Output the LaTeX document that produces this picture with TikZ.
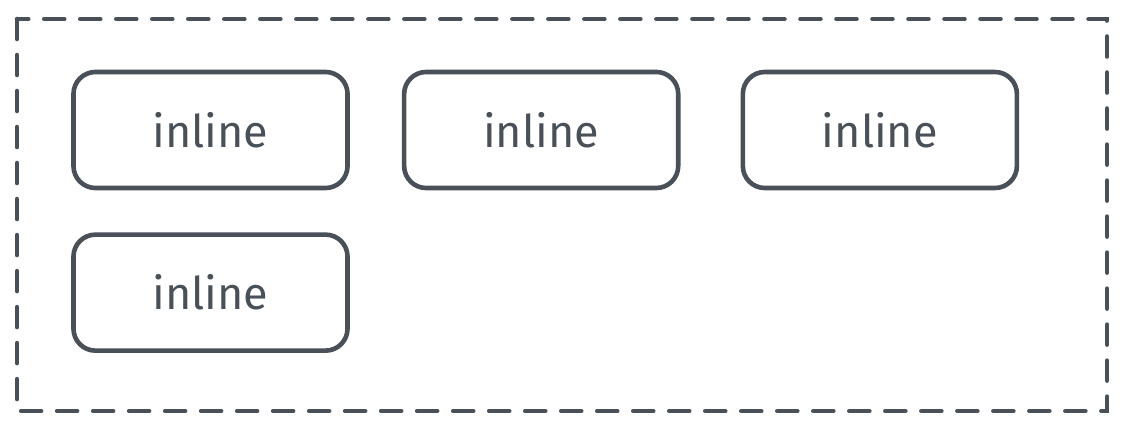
\documentclass[tikz,border=0pt]{standalone}
\usepackage{fontspec}
\setmainfont{Fira Sans}
\usetikzlibrary{positioning}
\definecolor{SketchGray}{HTML}{495057}
\tikzset{
    % Text in the boxes
    every node/.style={font=\fontsize{32}{38}\selectfont, text=SketchGray},
    % Inline element box
    inlinebox/.style={
        rectangle,
        rounded corners=0.55cm,
        draw=SketchGray,
        line width=0.115cm,
        minimum width=6.85cm,
        minimum height=2.9cm,
        align=center
    },
    % Outer container
    container/.style={
        draw=SketchGray,
        line width=0.115cm,
        line cap=round,
        dash pattern=on 0.5cm off 0.4cm
    }
}
\begin{document}
\begin{tikzpicture}[x=0.025cm, y=-0.025cm, node distance=1.05cm and 1.45cm]
    \useasboundingbox (0,0) rectangle (1124,431);
    % Container
    \coordinate (tl) at (17,19);
    \coordinate (br) at (1107,411);
    \draw [container] (tl) rectangle (br);

    % First line
    \node (box1) [inlinebox] at (210.5,130) {inline};
    \node (box2) [inlinebox, right=1.3cm of box1] {inline};
    \node (box3) [inlinebox, right=1.5cm of box2] {inline};

    % Wrapped line
    \node (box4) [inlinebox, below=of box1] {inline};
\end{tikzpicture}
\end{document}
